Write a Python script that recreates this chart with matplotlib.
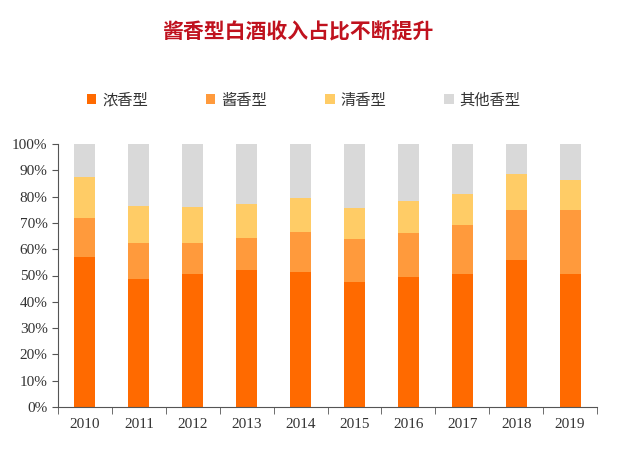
import numpy as np
import matplotlib.pyplot as plt
from matplotlib.ticker import PercentFormatter

# Data
years = ["2010", "2011", "2012", "2013", "2014", "2015", "2016", "2017", "2018", "2019"]
nong = [57.2, 48.7, 50.4, 52.0, 51.5, 47.4, 49.6, 50.4, 55.9, 50.6]
jiang = [14.6, 13.6, 11.9, 12.4, 15.2, 16.6, 16.7, 18.8, 19.1, 24.4]
qing = [15.5, 14.2, 13.7, 12.7, 12.7, 11.7, 12.0, 11.7, 13.6, 11.4]
other = [100 - a - b - c for a, b, c in zip(nong, jiang, qing)]

labels = ["浓香型", "酱香型", "清香型", "其他香型"]
colors = ["#FF6A00", "#FF9A3C", "#FFCC66", "#D9D9D9"]

plt.rcParams["font.family"] = ["Noto Sans CJK SC", "DejaVu Sans"]

fig = plt.figure(figsize=(6.25, 4.7), dpi=100)
ax = fig.add_axes([58 / 625, 63 / 470, 539 / 625, 263 / 470])

x = np.arange(len(years))
bottom = np.zeros(len(years))
for vals, lab, col in zip([nong, jiang, qing, other], labels, colors):
    ax.bar(x, vals, width=0.39, bottom=bottom, color=col, label=lab, linewidth=0)
    bottom += np.array(vals)

ax.set_xlim(-0.5, len(years) - 0.5)
ax.set_ylim(0, 100)
ax.set_yticks(np.arange(0, 101, 10))
ax.yaxis.set_major_formatter(PercentFormatter(decimals=0))
ax.set_xticks(x)
ax.set_xticklabels(years)
ax.set_xticks(np.arange(-0.5, len(years)), minor=True)
ax.tick_params(axis="x", which="major", length=0, pad=8)
ax.tick_params(axis="x", which="minor", length=5, direction="out", color="#555555")
ax.tick_params(axis="y", length=4, direction="out", color="#555555")
for lab in ax.get_xticklabels() + ax.get_yticklabels():
    lab.set_fontfamily("Liberation Serif")
    lab.set_fontsize(11)
    lab.set_color("#333333")

for s in ["top", "right"]:
    ax.spines[s].set_visible(False)
ax.spines["left"].set_color("#555555")
ax.spines["bottom"].set_color("#555555")

fig.text(298 / 625, 1 - 32 / 470, "酱香型白酒收入占比不断提升", ha="center", va="center",
         fontsize=15, fontweight="bold", color="#C0121E")

fig.legend(loc="center", bbox_to_anchor=(304 / 625, 1 - 100 / 470), ncol=4, frameon=False,
           fontsize=11, handlelength=0.6, handleheight=0.6, columnspacing=3.8,
           handletextpad=0.4, labelcolor="#333333")

fig.savefig("out.png", dpi=100)
